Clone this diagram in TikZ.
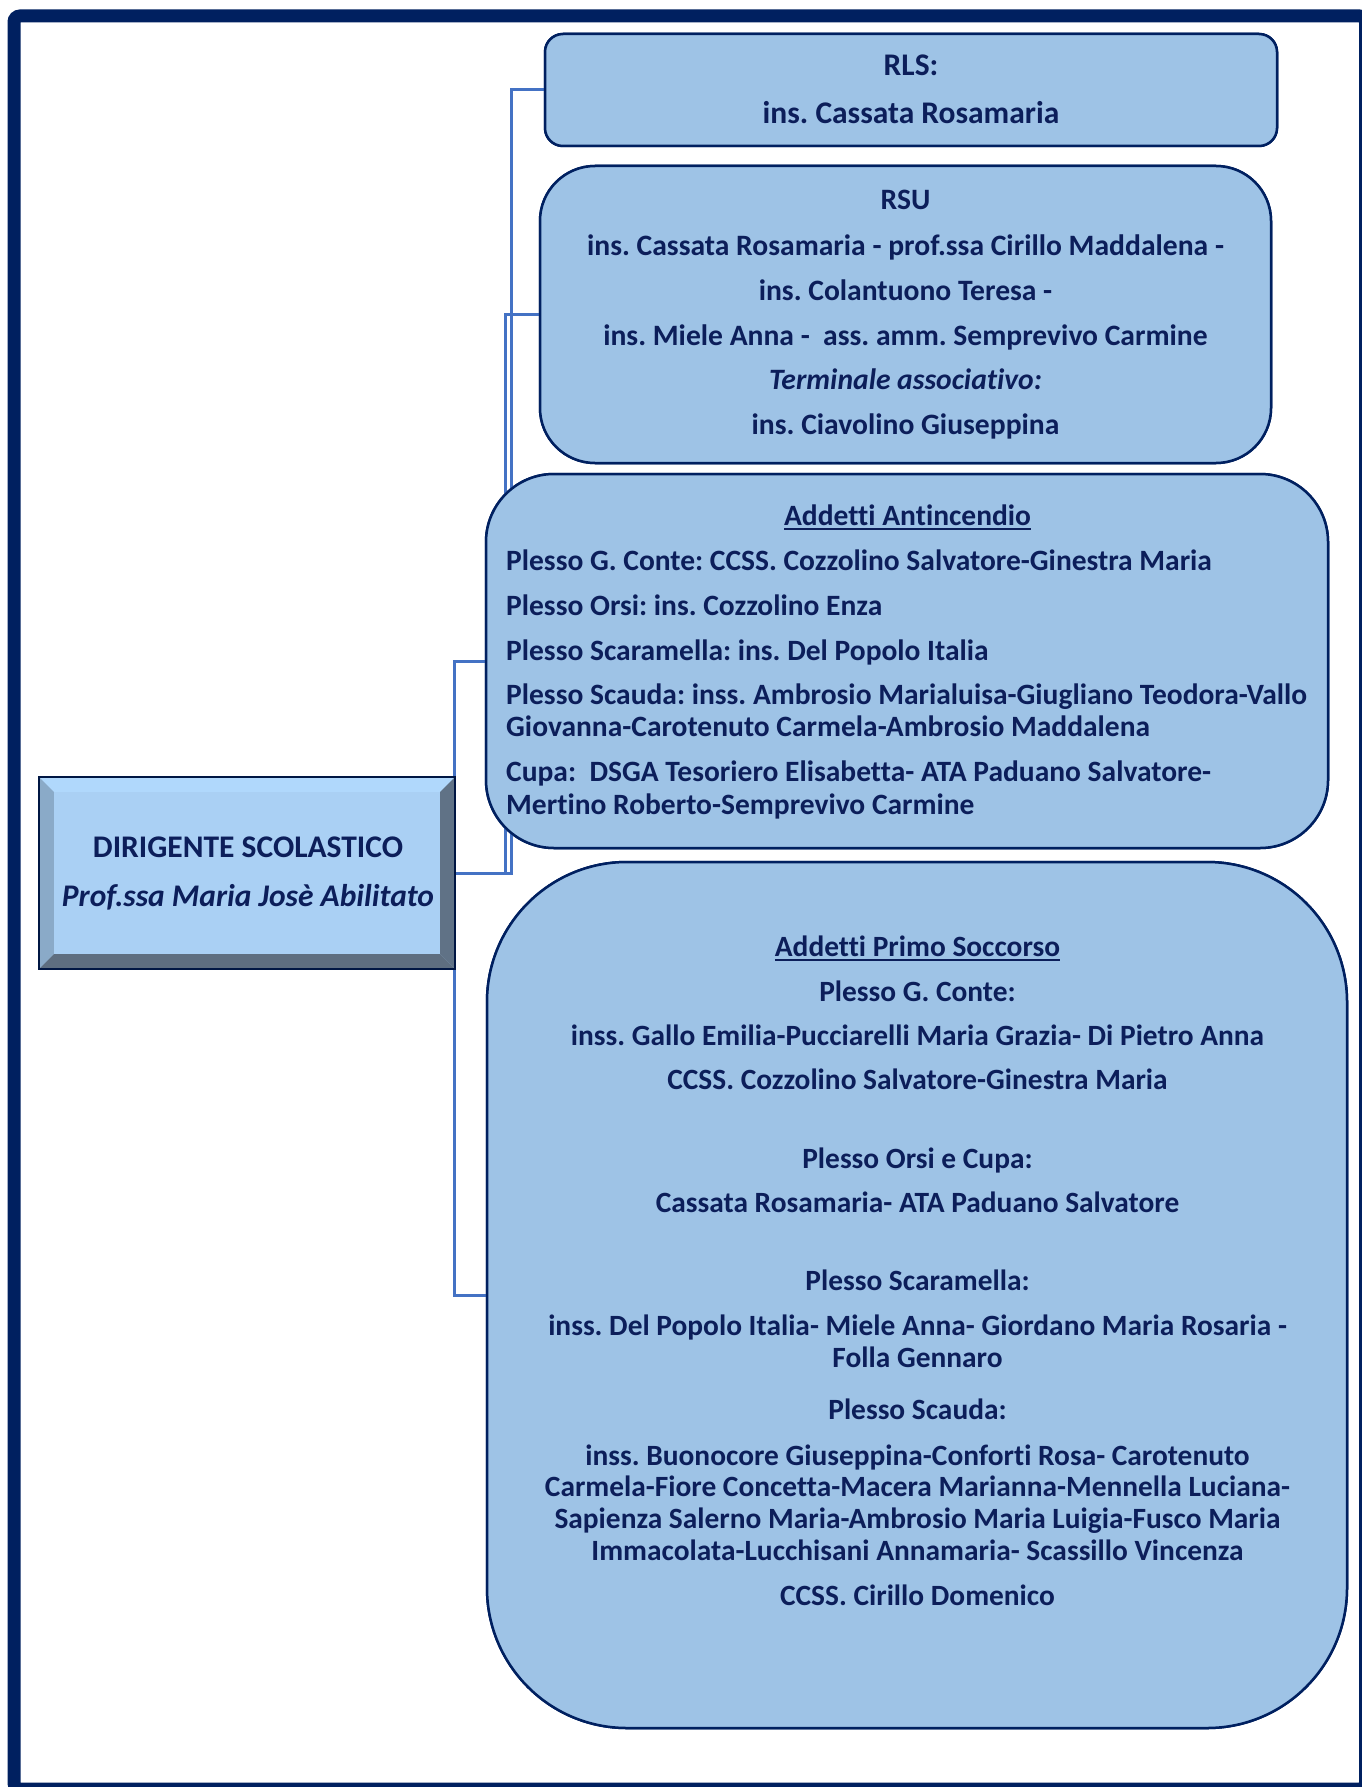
\documentclass[tikz,border=0pt]{standalone}
\usepackage{fontspec}
\setmainfont{Carlito}[Ligatures={NoCommon}]
\usetikzlibrary{calc}
\frenchspacing
\definecolor{navy}{RGB}{0,32,96}
\definecolor{txtc}{RGB}{12,30,90}
\definecolor{boxfill}{RGB}{158,195,230}
\definecolor{conncol}{RGB}{68,114,196}
\definecolor{dirface}{RGB}{170,208,244}
\definecolor{dirtop}{RGB}{176,216,252}
\definecolor{dirleft}{RGB}{138,170,200}
\definecolor{dirright}{RGB}{96,114,134}
\definecolor{dirbottom}{RGB}{94,110,128}
\newcommand\fntRLS{\fontsize{31.5}{36}\selectfont\bfseries}
\newcommand\fntRSU{\fontsize{29.6}{34}\selectfont\bfseries}
\newcommand\fntAN{\fontsize{29.5}{34}\selectfont\bfseries}
\newcommand\fntPS{\fontsize{29.4}{34}\selectfont\bfseries}
\newcommand\fntDIR{\fontsize{31.5}{36}\selectfont\bfseries}
\newcommand\ulx[1]{\setbox0\hbox{#1}\rlap{\rule[-5pt]{\wd0}{2.2pt}}\box0}
\begin{document}
\begin{tikzpicture}[x=1pt,y=-1pt,
  box/.style={draw=navy, line width=2.5pt, fill=boxfill, rectangle, inner sep=0pt},
  conn/.style={draw=conncol, line width=3pt},
  t/.style={text=txtc, inner sep=0pt, anchor=base},
  tl/.style={t, anchor=base west}]
\useasboundingbox (0,0) rectangle (1361,1787);
% frame
\draw[navy, line width=13pt, rounded corners=6pt] (14,16) rectangle (1365.5,1789);

% boxes (placed first so connectors can reference them)
\node[box, rounded corners=18pt, minimum width=732pt, minimum height=112pt] (rls) at (911,90) {};
\node[box, rounded corners=55pt, minimum width=731pt, minimum height=297pt] (rsu) at (905.5,314.5) {};
\node[box, rounded corners=68pt, minimum width=842pt, minimum height=374pt] (anti) at (907,661) {};
\node[box, rounded corners=140pt, minimum width=860pt, minimum height=866pt] (primo) at (917,1295) {};
\node[fill=dirface, minimum width=416pt, minimum height=192pt, inner sep=0pt] (dir) at (247,873) {};

% connectors
\draw[conn] (dir.east) -- ++(56,0) |- (rls.west);
\draw[conn] (dir.east) -- ++(50,0) |- (rsu.west);
\draw[conn] ($(dir.east)+(-1,0)$) |- (anti.west);
\draw[conn] ($(dir.east)+(-1,0)$) |- (primo.west);

% redraw boxes over connectors
\node[box, rounded corners=18pt, minimum width=732pt, minimum height=112pt] (rlsb) at (rls) {};
\node[box, rounded corners=55pt, minimum width=731pt, minimum height=297pt] (rsub) at (rsu) {};
\node[box, rounded corners=68pt, minimum width=842pt, minimum height=374pt] (antib) at (anti) {};
\node[box, rounded corners=140pt, minimum width=860pt, minimum height=866pt] (primob) at (primo) {};

% dirigente bevelled box
\node[fill=dirface, minimum width=416pt, minimum height=192pt, inner sep=0pt] (dirb) at (dir) {};
\fill[dirtop] (dir.north west) -- (dir.north east) -- ($(dir.north east)+(-15,15)$) -- ($(dir.north west)+(15,15)$) -- cycle;
\fill[dirleft] (dir.north west) -- ($(dir.north west)+(15,15)$) -- ($(dir.south west)+(15,-15)$) -- (dir.south west) -- cycle;
\fill[dirright] (dir.north east) -- (dir.south east) -- ($(dir.south east)+(-15,-15)$) -- ($(dir.north east)+(-15,15)$) -- cycle;
\fill[dirbottom] (dir.south west) -- ($(dir.south west)+(15,-15)$) -- ($(dir.south east)+(-15,-15)$) -- (dir.south east) -- cycle;
\draw[navy!70!black, line width=2.5pt] (dir.north west) rectangle (dir.south east);
\node[t, font=\fntDIR] (dir1) at (248,857) {DIRIGENTE SCOLASTICO};
\node[t, font=\fntDIR\itshape] (dir2) at (248,906) {Prof.ssa Maria Josè Abilitato};

% RLS
\node[t, font=\fntRLS] (rls1) at (911,76) {RLS:};
\node[t, font=\fntRLS] (rls2) at (911,124) {ins. Cassata Rosamaria};

% RSU
\node[t, font=\fntRSU] (rsu1) at (905.5,210) {RSU};
\node[t, font=\fntRSU] (rsu2) at (905.5,255) {ins. Cassata Rosamaria - prof.ssa Cirillo Maddalena -};
\node[t, font=\fntRSU] (rsu3) at (905.5,300) {ins. Colantuono Teresa -};
\node[t, font=\fntRSU] (rsu4) at (905.5,345) {ins. Miele Anna -\ \ ass. amm. Semprevivo Carmine};
\node[t, font=\fntRSU\itshape] (rsu5) at (905.5,389) {Terminale associativo:};
\node[t, font=\fntRSU] (rsu6) at (905.5,434) {ins. Ciavolino Giuseppina};

% Antincendio
\node[t, font=\fntAN] (an0) at (907.5,525) {\ulx{Addetti Antincendio}};
\node[tl, font=\fntAN] (an1) at (506,570) {Plesso G. Conte: CCSS. Cozzolino Salvatore-Ginestra Maria};
\node[tl, font=\fntAN] (an2) at (506,615) {Plesso Orsi: ins. Cozzolino Enza};
\node[tl, font=\fntAN] (an3) at (506,660) {Plesso Scaramella: ins. Del Popolo Italia};
\node[tl, font=\fntAN] (an4) at (506,704) {Plesso Scauda: inss. Ambrosio Marialuisa-Giugliano Teodora-Vallo};
\node[tl, font=\fntAN] (an5) at (506,736) {Giovanna-Carotenuto Carmela-Ambrosio Maddalena};
\node[tl, font=\fntAN] (an6) at (506,781) {Cupa:\ \ DSGA Tesoriero Elisabetta- ATA Paduano Salvatore-};
\node[tl, font=\fntAN] (an7) at (506,814) {Mertino Roberto-Semprevivo Carmine};

% Primo soccorso
\node[t, font=\fntPS] (ps0) at (917.5,956) {\ulx{Addetti Primo Soccorso}};
\node[t, font=\fntPS] (ps1) at (917.5,1001) {Plesso G. Conte:};
\node[t, font=\fntPS] (ps2) at (917.5,1045) {inss. Gallo Emilia-Pucciarelli Maria Grazia- Di Pietro Anna};
\node[t, font=\fntPS] (ps3) at (917.5,1089) {CCSS. Cozzolino Salvatore-Ginestra Maria};
\node[t, font=\fntPS] (ps4) at (917.5,1168) {Plesso Orsi e Cupa:};
\node[t, font=\fntPS] (ps5) at (917.5,1212) {Cassata Rosamaria- ATA Paduano Salvatore};
\node[t, font=\fntPS] (ps6) at (917.5,1290) {Plesso Scaramella:};
\node[t, font=\fntPS] (ps7) at (917.5,1335) {inss. Del Popolo Italia- Miele Anna- Giordano Maria Rosaria -};
\node[t, font=\fntPS] (ps8) at (917.5,1367) {Folla Gennaro};
\node[t, font=\fntPS] (ps9) at (917.5,1419) {Plesso Scauda:};
\node[t, font=\fntPS] (ps10) at (917.5,1465) {inss. Buonocore Giuseppina-Conforti Rosa- Carotenuto};
\node[t, font=\fntPS] (ps11) at (917.5,1496) {Carmela-Fiore Concetta-Macera Marianna-Mennella Luciana-};
\node[t, font=\fntPS] (ps12) at (917.5,1528) {Sapienza Salerno Maria-Ambrosio Maria Luigia-Fusco Maria};
\node[t, font=\fntPS] (ps13) at (917.5,1560) {Immacolata-Lucchisani Annamaria- Scassillo Vincenza};
\node[t, font=\fntPS] (ps14) at (917.5,1605) {CCSS. Cirillo Domenico};
\end{tikzpicture}
\end{document}
